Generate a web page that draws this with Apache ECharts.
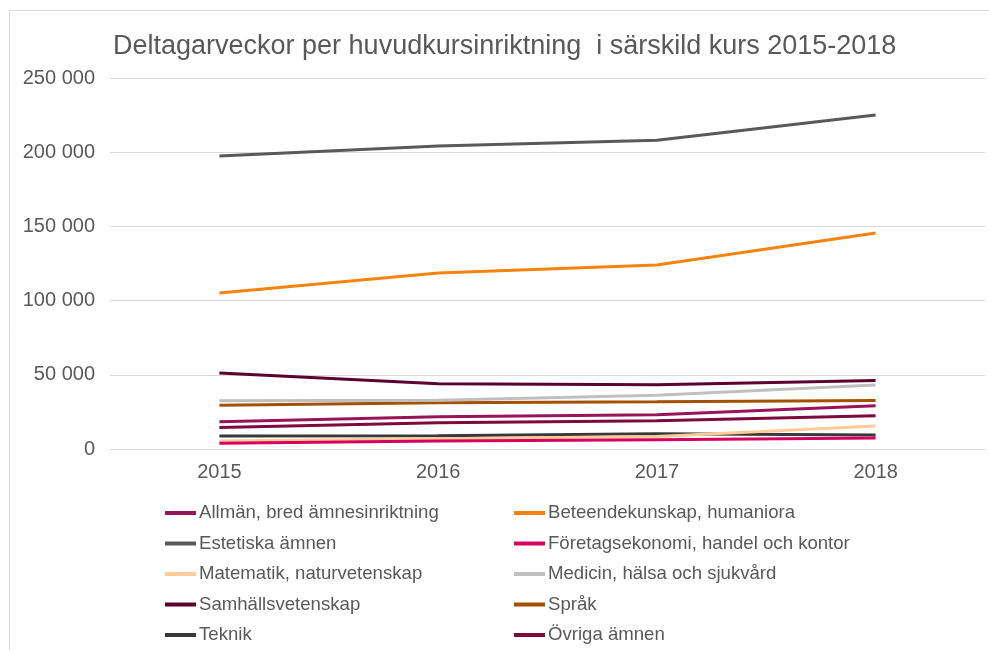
<!DOCTYPE html>
<html><head><meta charset="utf-8">
<script src="https://cdn.jsdelivr.net/npm/echarts@6/dist/echarts.min.js"></script>
<style>html,body{margin:0;padding:0;background:#fff}#c{width:989px;height:650px}</style>
</head><body><div id="c"></div>
<script>
const years = ['2015','2016','2017','2018'];
const seriesNames = ['Allmän, bred ämnesinriktning','Beteendekunskap, humaniora','Estetiska ämnen','Företagsekonomi, handel och kontor','Matematik, naturvetenskap','Medicin, hälsa och sjukvård','Samhällsvetenskap','Språk','Teknik','Övriga ämnen'];
const allman = [18400, 21700, 23100, 29100];
const beteende = [105100, 118600, 124000, 145500];
const estetiska = [197400, 204200, 208000, 225000];
const foretag = [3800, 5400, 6300, 7400];
const matematik = [5400, 6900, 8500, 15500];
const medicin = [32500, 32800, 36300, 43100];
const samhall = [51200, 44000, 43300, 46200];
const sprak = [29400, 31200, 31800, 32700];
const teknik = [8700, 8900, 10300, 9400];
const ovriga = [14500, 17700, 19000, 22400];
const yTicks = [0, 50000, 100000, 150000, 200000, 250000];

const values = [allman, beteende, estetiska, foretag, matematik, medicin, samhall, sprak, teknik, ovriga];
const colors = ['#971458','#f7830f','#595959','#d6005f','#ffcc99','#bfbfbf','#5c0030','#a35100','#383838','#7d0a3c'];
const font = 'Liberation Sans, Arial, sans-serif';

const chart = echarts.init(document.getElementById('c'), null, {renderer:'canvas'});
const legendCommon = {
  orient:'vertical', top: 503, height: 145, padding: 0, itemWidth: 31, itemHeight: 4, itemGap: 10.5,
  icon: 'rect',
  textStyle:{color:'#595959', fontSize:18.6, lineHeight:20, fontFamily:font, padding:[0,0,0,-2]}
};
chart.setOption({
  animation:false,
  graphic:[{type:'rect', shape:{x:9.5,y:10.5,width:1000,height:700}, style:{fill:null, stroke:'#d9d9d9', lineWidth:1}}],
  title:{text:'Deltagarveckor per huvudkursinriktning  i särskild kurs 2015-2018', left:108, top:28,
    textStyle:{color:'#595959', fontSize:27, fontWeight:'normal', fontFamily:font}},
  legend:[
    Object.assign({left:165, data:[seriesNames[0],seriesNames[2],seriesNames[4],seriesNames[6],seriesNames[8]]}, legendCommon),
    Object.assign({left:514, data:[seriesNames[1],seriesNames[3],seriesNames[5],seriesNames[7],seriesNames[9]]}, legendCommon)
  ],
  grid:{left:110, right:4, top:78, bottom:201, containLabel:false},
  xAxis:{type:'category', data:years, boundaryGap:true,
    axisLine:{show:false}, axisTick:{show:false},
    axisLabel:{color:'#595959', fontSize:20, fontFamily:font, margin:13}},
  yAxis:{type:'value', min:yTicks[0], max:yTicks[yTicks.length-1], interval:50000,
    axisLine:{show:false}, axisTick:{show:false},
    splitLine:{lineStyle:{color:'#d9d9d9', width:1}},
    axisLabel:{color:'#595959', fontSize:20, fontFamily:font, margin:15,
      formatter:v=>String(v).replace(/\B(?=(\d{3})+(?!\d))/g,' ')}},
  series: seriesNames.map((n,i)=>({name:n, type:'line', data:values[i], symbol:'none',
    lineStyle:{color:colors[i], width:3}, itemStyle:{color:colors[i]}, z: 10-i}))
});
</script></body></html>
